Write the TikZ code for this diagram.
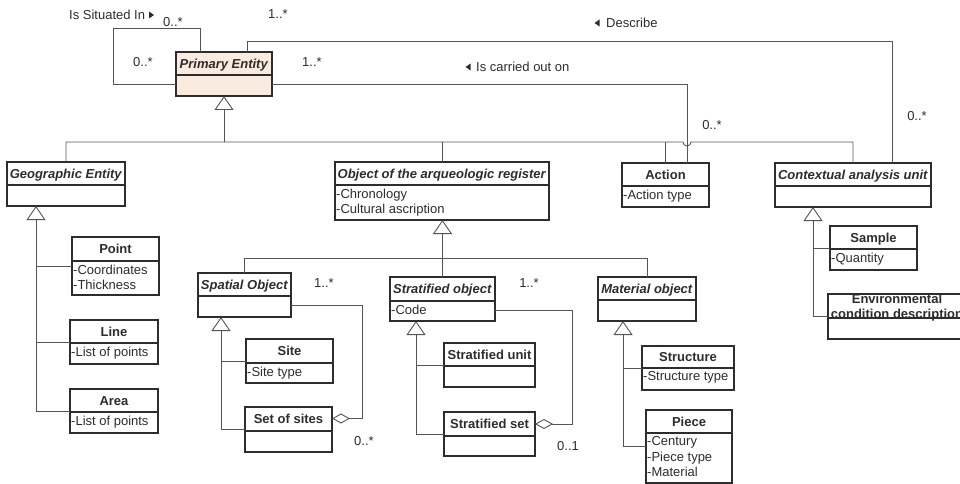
\documentclass[tikz,border=0pt]{standalone}
\usepackage{fontspec}
\setmainfont{Liberation Sans}
\usetikzlibrary{arrows.meta}
\definecolor{pefill}{RGB}{251,234,222}
\definecolor{boxc}{RGB}{45,45,45}
\definecolor{connc}{RGB}{85,85,85}
\tikzset{
  classbox/.style={draw=boxc, line width=1.1pt, anchor=north west, inner sep=0pt, outer sep=0pt},
  ctitle/.style={font=\fontsize{13}{15}\selectfont\bfseries, text=boxc, inner sep=0pt, text height=9.4pt, text depth=0pt, anchor=center},
  attrs/.style={font=\fontsize{13}{15.5}\selectfont, text=boxc, align=left, anchor=north west, inner xsep=1pt, inner ysep=3.5pt},
  lbl/.style={font=\fontsize{13}{15}\selectfont, text=boxc, inner sep=0pt, text height=9.4pt, text depth=0pt},
  conn/.style={draw=connc, line width=0.9pt},
  gen/.style={-{Triangle[open, length=14pt, width=19pt]}},
  agg/.style={{Diamond[open, length=18pt, width=10pt]}-},
}
% fill, name, x1, y1, x2, ydiv, y2, title, attributes
\newcommand\umlclass[9][white]{%
  \node[classbox, fill=#1, minimum width={(#5-#3)*1pt}, minimum height={(#7-#4)*1pt}] (#2) at (#3,#4) {};
  \draw[draw=boxc, line width=1.1pt] (#3,#6) -- (#5,#6);
  \node[ctitle] (#2-t) at ({(#3+#5)/2},{(#4+#6)/2}) {#8};
  \node[attrs] (#2-a) at (#3,#6) {#9};
}
\begin{document}
\begin{tikzpicture}[x=1pt, y=-1pt]
\clip (0,0) rectangle (960,484);
\fill[white] (0,0) rectangle (960,484);

% classes
\umlclass[pefill]{pe}{176}{52}{272}{75}{96}{\textit{Primary Entity}}{}
\umlclass{ge}{7}{162}{125}{185}{206}{\textit{Geographic Entity}}{}
\umlclass{pt}{72}{237}{159}{261}{295}{Point}{-Coordinates\\-Thickness}
\umlclass{ln}{70}{320}{158}{343}{364}{Line}{-List of points}
\umlclass{ar}{70}{389}{158}{412}{433}{Area}{-List of points}
\umlclass{obr}{335}{162}{549}{185}{220}{\textit{Object of the arqueologic register}}{-Chronology\\-Cultural ascription}
\umlclass{act}{622}{163}{709}{186}{207}{Action}{-Action type}
\umlclass{cau}{775}{163}{931}{186}{207}{\textit{Contextual analysis unit}}{}
\umlclass{smp}{830}{226}{917}{249}{270}{Sample}{-Quantity}
\umlclass{spo}{198}{273}{291}{296}{317}{\textit{Spatial Object}}{}
\umlclass{site}{246}{339}{333}{363}{383}{Site}{-Site type}
\umlclass{sos}{245}{407}{332}{431}{452}{Set of sites}{}
\umlclass{so}{390}{277}{495}{301}{321}{\textit{Stratified object}}{-Code}
\umlclass{su}{444}{343}{535}{366}{387}{Stratified unit}{}
\umlclass{sset}{444}{412}{535}{436}{456}{Stratified set}{}
\umlclass{mo}{598}{277}{696}{300}{321}{\textit{Material object}}{}
\umlclass{str}{642}{346}{734}{368}{390}{Structure}{-Structure type}
\umlclass{pc}{646}{410}{732}{433}{483}{Piece}{-Century\\-Piece type\\-Material}
% environmental condition description (runs past the right edge)
\node[classbox, minimum width=138pt, minimum height=45pt] (env) at (828,294) {};
\draw[draw=boxc, line width=1.1pt] (828,318) -- (966,318);
\node[font=\fontsize{13}{15.5}\selectfont\bfseries, text=boxc, align=center, inner sep=0pt, anchor=north] (env-t) at (897,293.7) {Environmental\\condition description};

% trunk coordinates
\coordinate (geT) at (36,0);
\coordinate (spT) at (221,0);
\coordinate (soT) at (416,0);
\coordinate (moT) at (623,0);
\coordinate (cauT) at (813,0);
\coordinate (busA) at (0,142);
\coordinate (busB) at (0,258);

% generalisation: top level
\draw[conn] (ge.north) |- (683,142) arc[start angle=180, end angle=0, radius=4] -| (cau.north);
\draw[conn] (act.north) -- (act.north |- busA);
\draw[conn] (obr.north) -- (obr.north |- busA);
\draw[conn,gen] (pe.south |- busA) -- (pe.south);

% geographic entity
\draw[conn,gen] (ar.west) -| (geT |- ge.south);
\draw[conn] (pt.west) -- (geT |- pt.west);
\draw[conn] (ln.west) -- (geT |- ln.west);

% object of the arqueologic register
\draw[conn] (spo.north) -- (spo.north |- busB) -- (mo.north |- busB) -- (mo.north);
\draw[conn,gen] (so.north) -- (so.north |- obr.south);

% spatial object
\draw[conn,gen] (sos.west) -| (spT |- spo.south);
\draw[conn] (site.west) -- (spT |- site.west);
% stratified object
\draw[conn,gen] (sset.west) -| (soT |- so.south);
\draw[conn] (su.west) -- (soT |- su.west);
% material object
\draw[conn,gen] (pc.west) -| (moT |- mo.south);
\draw[conn] (str.west) -- (moT |- str.west);
% contextual analysis unit
\draw[conn,gen] (env.west) -| (cauT |- cau.south);
\draw[conn] (smp.west) -- (cauT |- smp.west);

% aggregations
\draw[conn,agg] ([yshift=11pt]sos.east) -- ++(30,0) |- ([yshift=12pt]spo.south east);
\draw[conn,agg] ([yshift=10pt]sset.east) -- ++(37,0) |- ([yshift=11pt]so.south east);

% associations
\draw[conn] ([xshift=24pt]pe.north west) -- ++(0,-24) -| ([xshift=-63pt,yshift=12pt]pe.south west) -- ([yshift=12pt]pe.south west);
\draw[conn] ([xshift=71pt]pe.north west) -- ++(0,-11) -| ([xshift=-39pt]cau.north east);
\draw[conn] ([yshift=12pt]pe.south east) -| ([xshift=22pt]act.north);

% labels
\node[lbl, anchor=west] (lsit) at (69,15) {Is Situated In};
\fill[boxc] (149,11.5) -- (154,15) -- (149,18.5) -- cycle;
\node[lbl] (m1) at (173,22) {0..*};
\node[lbl] (m2) at (143,62) {0..*};
\node[lbl] (m3) at (278,14) {1..*};
\node[lbl] (m4) at (312,62) {1..*};
\node[lbl, anchor=west] (lcar) at (476,67) {Is carried out on};
\fill[boxc] (470.5,63.5) -- (465.5,67) -- (470.5,70.5) -- cycle;
\node[lbl] (m5) at (712,125) {0..*};
\node[lbl, anchor=west] (ldes) at (606,23) {Describe};
\fill[boxc] (599.5,19.5) -- (594.5,23) -- (599.5,26.5) -- cycle;
\node[lbl] (m6) at (917,116) {0..*};
\node[lbl] (m7) at (324,283) {1..*};
\node[lbl] (m8) at (364,441) {0..*};
\node[lbl] (m9) at (529,283) {1..*};
\node[lbl] (m10) at (568,446) {0..1};
\end{tikzpicture}
\end{document}
